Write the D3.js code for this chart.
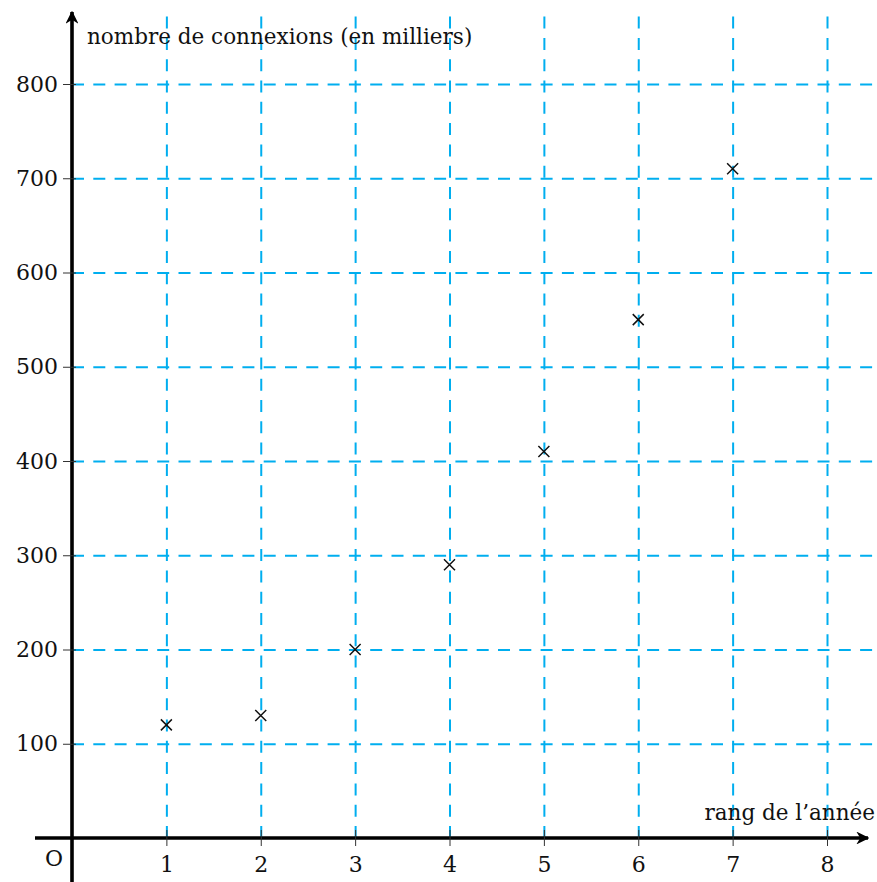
<!DOCTYPE html>
<html>
<head>
<meta charset="utf-8">
<script src="https://cdn.jsdelivr.net/npm/d3@7"></script>
<style>
    body { margin: 0; background: #fff; }
    svg text { font-family: "DejaVu Serif", serif; fill: #111; }
</style>
</head>
<body>
<div id="chart"></div>
<script>
const ranks = [1, 2, 3, 4, 5, 6, 7];
const connexions = [120, 130, 200, 290, 410, 550, 710];
const xTicks = [1, 2, 3, 4, 5, 6, 7, 8];
const yTicks = [100, 200, 300, 400, 500, 600, 700, 800];
const xTitle = 'rang de l\u2019année';
const yTitle = 'nombre de connexions (en milliers)';

const width = 877;
const height = 882;
const ox = 72;
const oy = 838;
const gridColor = '#00aeef';
const labelSize = 22;
const titleSize = 21.5;

const x = d3.scaleLinear()
    .domain([0, 8])
    .range([ox, 827]);

const y = d3.scaleLinear()
    .domain([0, 800])
    .range([oy, 84]);

let svg = d3.select('#chart')
    .append('svg')
    .attr('width', width)
    .attr('height', height);

// grid
let grid = svg.append('g').attr('class', 'grid');

grid.append('g')
    .attr('transform', 'translate(0,' + oy + ')')
    .call(d3.axisTop(x).tickValues(xTicks).tickSize(oy - 12).tickFormat(''))
    .call(g => g.select('.domain').remove())
    .call(g => g.selectAll('line')
        .attr('stroke', gridColor)
        .attr('stroke-width', 2)
        .attr('stroke-dasharray', '12,9.3'));

grid.append('g')
    .attr('transform', 'translate(' + ox + ',0)')
    .call(d3.axisRight(y).tickValues(yTicks).tickSize(width - ox).tickFormat(''))
    .call(g => g.select('.domain').remove())
    .call(g => g.selectAll('line')
        .attr('stroke', gridColor)
        .attr('stroke-width', 2)
        .attr('stroke-dasharray', '12,9.3'));

// arrow marker
svg.append('defs')
    .append('marker')
    .attr('id', 'arrow')
    .attr('viewBox', '0 0 10 10')
    .attr('refX', 9)
    .attr('refY', 5)
    .attr('markerWidth', 3.6)
    .attr('markerHeight', 3.6)
    .attr('markerUnits', 'strokeWidth')
    .attr('orient', 'auto')
    .append('path')
    .attr('d', 'M0,0 L10,5 L0,10 L3,5 Z')
    .attr('fill', '#000');

// axes lines
svg.append('line')
    .attr('x1', 35).attr('y1', oy)
    .attr('x2', 868).attr('y2', oy)
    .attr('stroke', '#000')
    .attr('stroke-width', 3.6)
    .attr('marker-end', 'url(#arrow)');

svg.append('line')
    .attr('x1', ox).attr('y1', height)
    .attr('x2', ox).attr('y2', 12)
    .attr('stroke', '#000')
    .attr('stroke-width', 3.6)
    .attr('marker-end', 'url(#arrow)');

// ticks and labels
let axisX = svg.append('g')
    .attr('transform', 'translate(0,' + (oy - 8) + ')')
    .call(d3.axisBottom(x).tickValues(xTicks).tickSize(16));
axisX.select('.domain').remove();
axisX.selectAll('line').attr('stroke', '#333').attr('stroke-width', 1);
axisX.selectAll('text')
    .attr('font-size', labelSize)
    .style('font-family', '"DejaVu Serif", serif')
    .attr('dy', 0)
    .attr('y', 42);

let axisY = svg.append('g')
    .attr('transform', 'translate(' + (ox + 4) + ',0)')
    .call(d3.axisLeft(y).tickValues(yTicks).tickSize(13).tickPadding(5));
axisY.select('.domain').remove();
axisY.selectAll('line').attr('stroke', '#333').attr('stroke-width', 1);
axisY.selectAll('text')
    .attr('font-size', labelSize)
    .style('font-family', '"DejaVu Serif", serif');

// origin label and titles
svg.append('text')
    .attr('x', 54).attr('y', 866)
    .attr('text-anchor', 'middle')
    .attr('font-size', labelSize)
    .text('O');

svg.append('text')
    .attr('x', 875).attr('y', 820)
    .attr('text-anchor', 'end')
    .attr('font-size', titleSize)
    .text(xTitle);

svg.append('text')
    .attr('x', 87).attr('y', 44)
    .attr('font-size', titleSize)
    .text(yTitle);

// points as crosses
let pts = ranks.map((r, i) => ({ rank: r, value: connexions[i] }));
let s = 5.5;
svg.append('g')
    .selectAll('path')
    .data(pts)
    .enter()
    .append('path')
    .attr('d', d => {
        let cx = x(d.rank), cy = y(d.value);
        return 'M' + (cx - s) + ',' + (cy - s) + 'L' + (cx + s) + ',' + (cy + s)
            + 'M' + (cx - s) + ',' + (cy + s) + 'L' + (cx + s) + ',' + (cy - s);
    })
    .attr('stroke', '#111')
    .attr('stroke-width', 1.5)
    .attr('fill', 'none');
</script>
</body>
</html>
